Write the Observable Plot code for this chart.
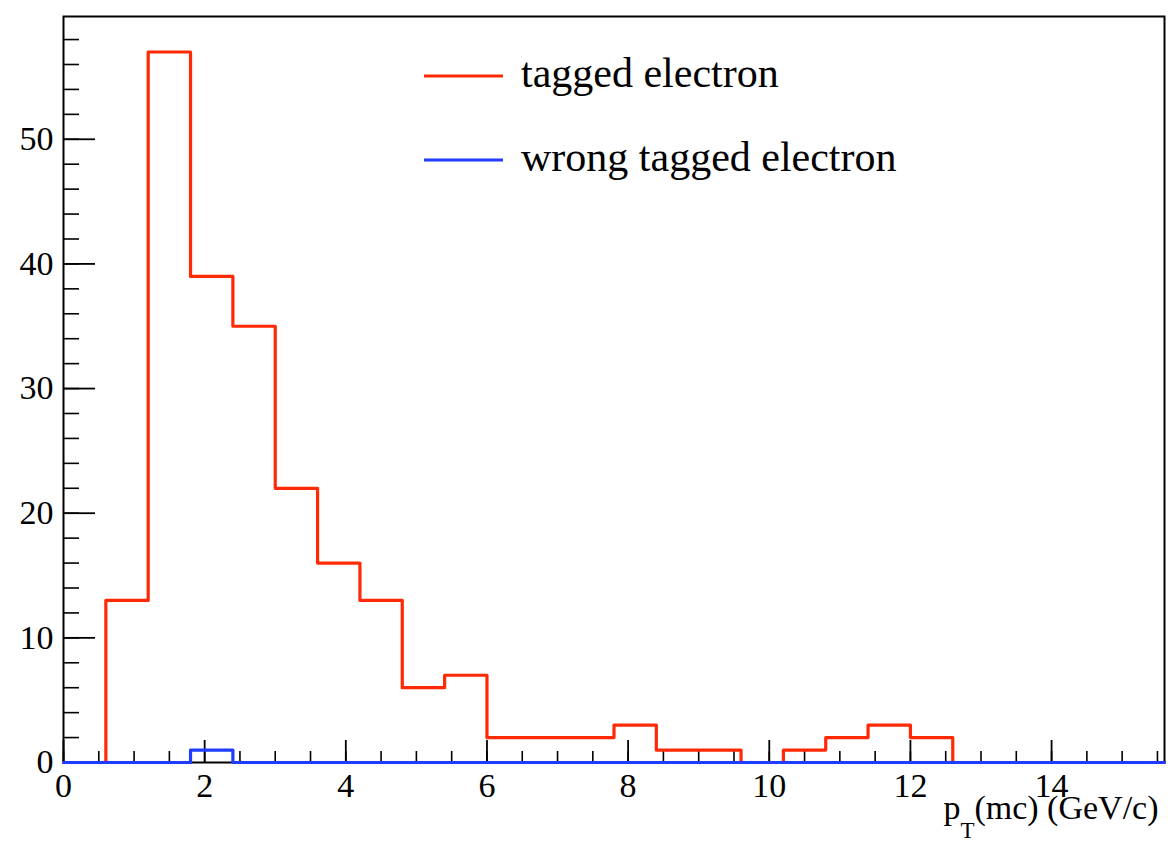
<!DOCTYPE html>
<html>
<head>
<meta charset="utf-8">
<script src="https://cdn.jsdelivr.net/npm/d3@7"></script>
<script src="https://cdn.jsdelivr.net/npm/@observablehq/plot@0.6"></script>
<style>
  html, body { margin: 0; padding: 0; background: #fff; }
  #chart { width: 1168px; height: 841px; }
</style>
</head>
<body>
<div id="chart"></div>
<script>
// ---- data ----
const binEdges = [0, 0.6, 1.2, 1.8, 2.4, 3.0, 3.6, 4.2, 4.8, 5.4, 6.0, 6.6, 7.2, 7.8, 8.4,
                  9.0, 9.6, 10.2, 10.8, 11.4, 12.0, 12.6, 13.2, 13.8, 14.4, 15.0, 15.6];
const taggedCounts = [0, 13, 57, 39, 35, 22, 16, 13, 6, 7, 2, 2, 2, 3, 1, 1, 0, 1, 2, 3, 2, 0, 0, 0, 0, 0];
const wrongTaggedCounts = [0, 0, 0, 1, 0, 0, 0, 0, 0, 0, 0, 0, 0, 0, 0, 0, 0, 0, 0, 0, 0, 0, 0, 0, 0, 0];
const seriesNames = ["tagged electron", "wrong tagged electron"];
const seriesColors = ["#ff2a05", "#1f3cff"];
const xTickLabels = [0, 2, 4, 6, 8, 10, 12, 14];
const yTickLabels = [0, 10, 20, 30, 40, 50];
const xMinorTicks = d3.range(0, 15.6, 0.5);
const yMinorTicks = d3.range(0, 59.85, 2);
const xDomain = [0, 15.6];
const yDomain = [0, 59.85];
const xTitleMain = "p";
const xTitleSub = "T";
const xTitleRest = "(mc) (GeV/c)";

// ---- layout ----
const W = 1168, H = 841;
const mL = 63, mR = 4, mT = 16, mB = 79;
const innerW = W - mL - mR, innerH = H - mT - mB;
const serif = "'Liberation Serif', 'Times New Roman', serif";

function steps(counts) {
  return binEdges.map((e, i) => ({x: e, y: i < counts.length ? counts[i] : counts[counts.length - 1]}));
}
const taggedSteps = steps(taggedCounts);
const wrongSteps = steps(wrongTaggedCounts);

const plot = Plot.plot({
  width: W,
  height: H,
  marginLeft: mL,
  marginRight: mR,
  marginTop: mT,
  marginBottom: mB,
  style: {background: "#fff", color: "#000", overflow: "visible", fontFamily: serif},
  x: {domain: xDomain, label: null},
  y: {domain: yDomain, label: null},
  marks: [
    Plot.frame({stroke: "#000", strokeWidth: 2}),
    // minor ticks
    Plot.tickX(xMinorTicks, {x: d => d, insetTop: innerH - 11, stroke: "#000", strokeWidth: 1.6}),
    Plot.tickY(yMinorTicks, {y: d => d, insetRight: innerW - 16, stroke: "#000", strokeWidth: 1.6}),
    // major ticks
    Plot.tickX(xTickLabels, {x: d => d, insetTop: innerH - 22, stroke: "#000", strokeWidth: 1.8}),
    Plot.tickY(yTickLabels, {y: d => d, insetRight: innerW - 32, stroke: "#000", strokeWidth: 1.8}),
    // tick labels
    Plot.axisX({ticks: xTickLabels, tickSize: 0, tickPadding: 10, fontSize: 34, label: null, tickFormat: d => String(d)}),
    Plot.axisY({ticks: yTickLabels, tickSize: 0, tickPadding: 10, fontSize: 34, label: null, tickFormat: d => String(d)}),
    // histograms
    Plot.line(taggedSteps, {x: "x", y: "y", curve: "step-after", stroke: seriesColors[0], strokeWidth: 3.2}),
    Plot.line(wrongSteps, {x: "x", y: "y", curve: "step-after", stroke: seriesColors[1], strokeWidth: 3.2}),
    // axis title
    Plot.text([xTitleMain + xTitleSub + xTitleRest], {frameAnchor: "bottom-right", lineAnchor: "bottom", dx: -6, dy: 56, textAnchor: "end", fontSize: 34, fill: "#000"})
  ]
});

document.getElementById("chart").appendChild(plot);

// subscript in axis title
const svg = d3.select(plot);
svg.selectAll("text").filter(function() { return this.textContent === xTitleMain + xTitleSub + xTitleRest; })
  .each(function() {
    const t = d3.select(this);
    t.text(null);
    t.append("tspan").text(xTitleMain);
    t.append("tspan").attr("dy", 19).attr("font-size", 23).text(xTitleSub);
    t.append("tspan").attr("dy", -19).text(xTitleRest);
  });

// legend
const legend = svg.append("g").attr("font-size", 42).attr("fill", "#000").attr("text-anchor", "start");
seriesNames.forEach((name, i) => {
  const cy = 76 + i * 84;
  legend.append("line").attr("x1", 424).attr("x2", 503).attr("y1", cy).attr("y2", cy)
    .attr("stroke", seriesColors[i]).attr("stroke-width", 3.2);
  legend.append("text").attr("x", 521).attr("y", cy + 11).attr("text-anchor", "start").text(name);
});

svg.selectAll("text").style("font-family", serif);
</script>
</body>
</html>
